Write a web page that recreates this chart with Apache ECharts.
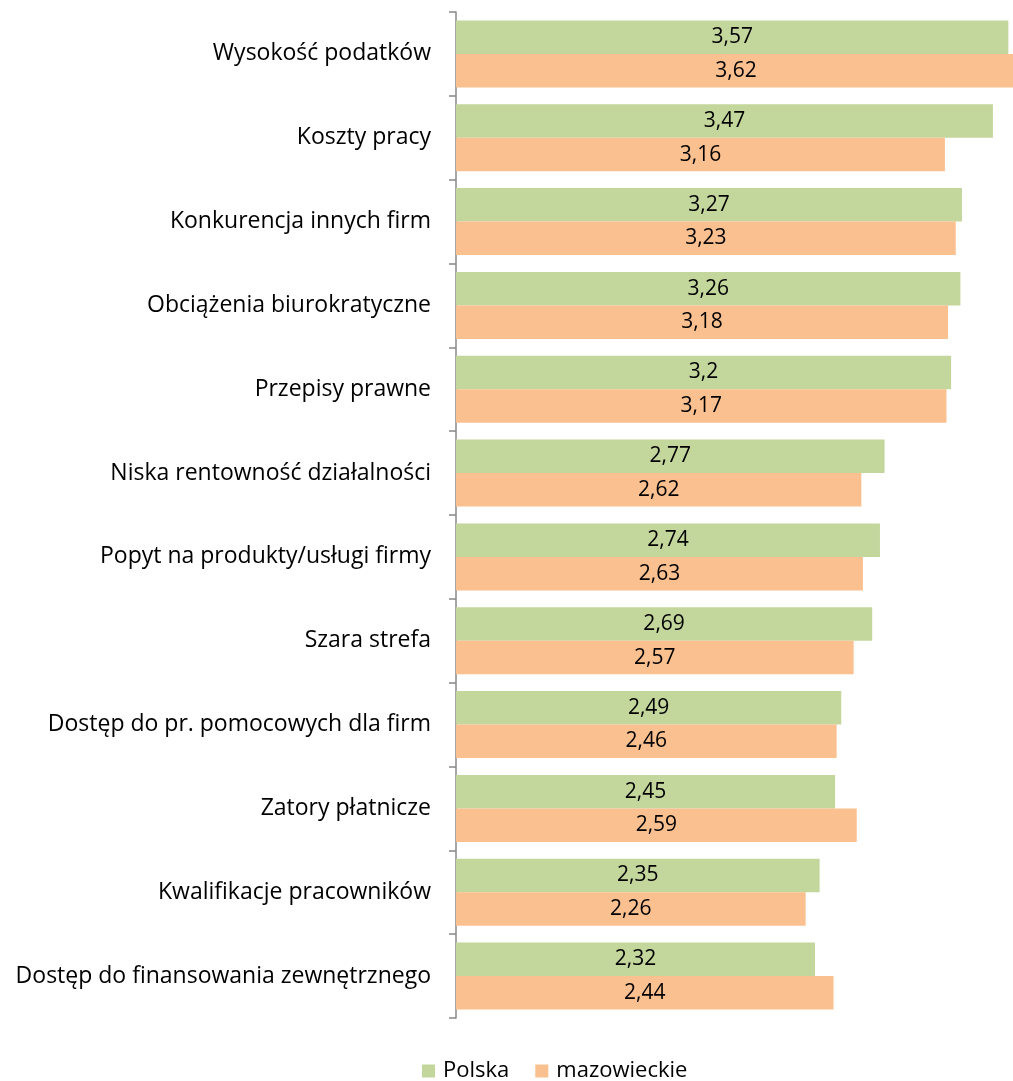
<!DOCTYPE html>
<html>
<head>
<meta charset="utf-8">
<script src="https://cdn.jsdelivr.net/npm/echarts@6/dist/echarts.min.js"></script>
<style>
  html, body { margin: 0; padding: 0; background: #fff; }
  #chart { width: 1013px; height: 1081px; }
</style>
</head>
<body>
<div id="chart"></div>
<script>
const categories = [
  'Wysokość podatków',
  'Koszty pracy',
  'Konkurencja innych firm',
  'Obciążenia biurokratyczne',
  'Przepisy prawne',
  'Niska rentowność działalności',
  'Popyt na produkty/usługi firmy',
  'Szara strefa',
  'Dostęp do pr. pomocowych dla firm',
  'Zatory płatnicze',
  'Kwalifikacje pracowników',
  'Dostęp do finansowania zewnętrznego'
]
const polska = [3.57, 3.47, 3.27, 3.26, 3.2, 2.77, 2.74, 2.69, 2.49, 2.45, 2.35, 2.32]
const mazowieckie = [3.62, 3.16, 3.23, 3.18, 3.17, 2.62, 2.63, 2.57, 2.46, 2.59, 2.26, 2.44]

const fontFamily = '"Open Sans", Lato, sans-serif'
const fmt = p => String(p.value).replace('.', ',')

const chart = echarts.init(document.getElementById('chart'))

const barLabel = {
  show: true,
  position: 'inside',
  color: '#000',
  fontSize: 21,
  fontFamily: fontFamily,
  formatter: fmt
}

chart.setOption({
  animation: false,
  grid: {
    left: 456,
    right: -2,
    top: 12,
    bottom: 63,
    containLabel: false
  },
  legend: {
    top: 1055,
    left: 417,
    itemWidth: 13,
    itemHeight: 13,
    itemGap: 26,
    icon: 'rect',
    textStyle: { fontSize: 22, fontFamily: fontFamily, color: '#000', padding: [0, 0, 0, 3] },
    data: ['Polska', 'mazowieckie']
  },
  xAxis: {
    type: 'value',
    min: 0,
    max: 3.6,
    show: false
  },
  yAxis: {
    type: 'category',
    inverse: true,
    data: categories,
    axisLine: { show: true, lineStyle: { color: '#888', width: 1.5 } },
    axisTick: { show: true, length: 7, lineStyle: { color: '#888', width: 1.5 } },
    axisLabel: {
      margin: 25,
      fontSize: 23,
      fontFamily: fontFamily,
      color: '#000'
    }
  },
  series: [
    {
      name: 'Polska',
      type: 'bar',
      data: polska,
      barCategoryGap: '20%',
      barGap: 0,
      clip: false,
      itemStyle: { color: '#c3d69b' },
      label: barLabel
    },
    {
      name: 'mazowieckie',
      type: 'bar',
      data: mazowieckie,
      barCategoryGap: '20%',
      barGap: 0,
      clip: false,
      itemStyle: { color: '#fac090' },
      label: barLabel
    }
  ]
})

window.addEventListener('resize', () => chart.resize())
</script>
</body>
</html>
